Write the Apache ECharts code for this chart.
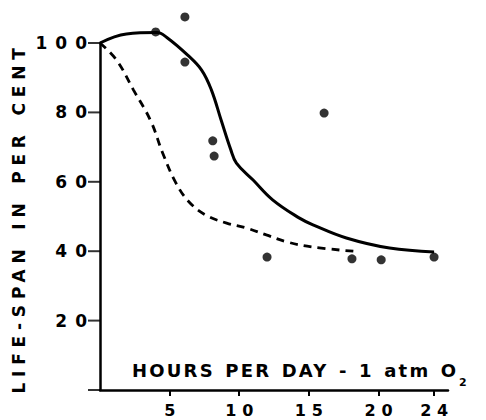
<!DOCTYPE html>
<html>
<head>
<meta charset="utf-8">
<script src="https://cdn.jsdelivr.net/npm/echarts@6/dist/echarts.min.js"></script>
<style>
  html, body { margin: 0; padding: 0; background: #fff; }
  #chart { width: 486px; height: 420px; }
  /* the old typewriter lettering is widely spaced */
  #chart text { letter-spacing: 2.2px; word-spacing: 2px; }
  #chart text[text-anchor="middle"] { letter-spacing: 5.8px; }
  #chart text[text-anchor="end"] { letter-spacing: 8px; }
</style>
</head>
<body>
<div id="chart"></div>
<script>
  // solid curve
  var solidCurve = [
    [0, 100], [1.9, 102.6], [4.1, 103], [4.8, 101.6], [6.3, 96.5], [7.3, 92.2],
    [8.0, 86.5], [8.7, 77.8], [9.4, 69.2], [9.8, 65.4], [11.0, 60.5], [12.4, 54.8],
    [14.3, 49.6], [15.3, 47.6], [17.7, 43.8], [20.8, 40.9], [24, 39.8]
  ];
  // dashed curve
  var dashedCurve = [
    [0, 100], [1.2, 95], [2.4, 86.5], [3.65, 77.5], [4.5, 68.3], [5.45, 59.7],
    [6.4, 54.2], [7.6, 50.4], [9.1, 48.1], [10.5, 46.7], [11.95, 44.7], [13.4, 42.7],
    [15.3, 41.2], [18.2, 40]
  ];
  // observed points
  var dots = [
    [4, 103.2], [6.1, 107.5], [6.1, 94.5], [8.1, 71.8], [8.2, 67.4],
    [16.1, 79.8], [12, 38.3], [18.1, 37.8], [20.2, 37.5], [24, 38.3]
  ];
  var xTicks = [5, 10, 15, 20, 24];
  var yTicks = [0, 20, 40, 60, 80, 100];

  var ink = '#000';
  var font = 'DejaVu Sans';

  var chart = echarts.init(document.getElementById('chart'), null, { renderer: 'svg' });
  chart.setOption({
    animation: false,
    backgroundColor: '#fff',
    grid: { left: 100, right: 38, top: 43, bottom: 30 },
    xAxis: {
      type: 'value',
      min: 0,
      max: 25,
      axisLine: { lineStyle: { color: ink, width: 2.5 } },
      axisTick: { show: true, customValues: xTicks, length: 6, lineStyle: { color: ink, width: 2 } },
      axisLabel: {
        customValues: xTicks, color: ink, fontFamily: font, fontWeight: 'bold', fontSize: 16,
        margin: 12, padding: [0, 0, 0, 6]
      },
      splitLine: { show: false }
    },
    yAxis: {
      type: 'value',
      min: 0,
      max: 100,
      interval: 20,
      axisLine: { lineStyle: { color: ink, width: 2.5 } },
      axisTick: { show: false },
      axisLabel: {
        color: ink, fontFamily: font, fontWeight: 'bold', fontSize: 17, margin: 5,
        formatter: function (v) { return v === 0 ? '' : String(v); }
      },
      splitLine: { show: false }
    },
    graphic: [
      {
        type: 'text', x: 19, y: 218, rotation: Math.PI / 2,
        style: {
          text: 'LIFE-SPAN IN PER CENT', fill: ink, font: 'bold 17px "DejaVu Sans"',
          align: 'center', verticalAlign: 'middle'
        }
      },
      {
        type: 'text', left: 132, top: 361,
        style: { text: 'HOURS PER DAY - 1 atm O', fill: ink, font: 'bold 18px "DejaVu Sans"' }
      },
      {
        type: 'text', left: 459, top: 377,
        style: { text: '2', fill: ink, font: 'bold 11px "DejaVu Sans"' }
      }
    ],
    series: [
      {
        type: 'line',
        data: solidCurve,
        smooth: 0.4,
        showSymbol: false,
        clip: false,
        lineStyle: { color: ink, width: 3 }
      },
      {
        type: 'line',
        data: dashedCurve,
        smooth: 0.4,
        showSymbol: false,
        clip: false,
        lineStyle: { color: ink, width: 2.8, type: [8, 6] }
      },
      {
        type: 'scatter',
        data: dots,
        symbolSize: 9,
        clip: false,
        itemStyle: { color: ink }
      },
      {
        // y tick marks, placed on the y scale at x = 0
        type: 'scatter',
        data: yTicks.map(function (v) { return [0, v]; }),
        symbol: 'rect',
        symbolSize: [12, 2],
        symbolOffset: [-6, 0],
        clip: false,
        silent: true,
        itemStyle: { color: ink }
      }
    ]
  });
</script>
</body>
</html>
